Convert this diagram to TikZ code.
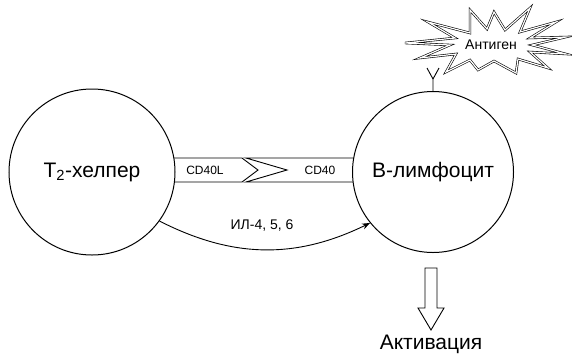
\documentclass[tikz,border=0pt]{standalone}
\usepackage{fontspec}
\setmainfont{Liberation Sans}
\usetikzlibrary{arrows.meta}
\begin{document}
\begin{tikzpicture}[x=1pt,y=-1pt,
  cell/.style={circle,draw,line width=1pt,fill=white,minimum size=#1,inner sep=0pt,font=\fontsize{21}{24}\selectfont},
  band/.style={draw,line width=0.9pt,fill=white},
  small/.style={font=\fontsize{12}{14}\selectfont,inner sep=0pt},
  burst/.style={draw,double,double distance=1.2pt,line width=0.6pt,line join=miter,fill=white}]
\useasboundingbox (0,0) rectangle (572,357);
% bands
\draw[band] (150,158) -- (242,158) -- (258,170) -- (242,182) -- (150,182) -- cycle;
\draw[band] (246,158) -- (380,158) -- (380,182) -- (246,182) -- (287,170) -- cycle;
% cells
\node[cell=166pt] (T) at (92,172) {T\textsubscript{2}-хелпер};
\node[cell=161pt] (B) at (433,172) {В-лимфоцит};
\node[small] (l1) at (205,170) {CD40L};
\node[small] (l2) at (320,170) {CD40};
% cytokines
\draw[line width=0.9pt,-{Stealth[length=8pt,width=6pt]}] (T.-36) to[out=-27,in=206] (B.-141);
\node[small,font=\fontsize{14}{16}\selectfont] (il) at (262,225) {ИЛ-4, 5, 6};
% antigen
\draw[burst] (405,43) -- (450,45) -- (420,58) -- (456,54) -- (446,72) -- (470,60) -- (478,70)
  -- (494,61) -- (516,73) -- (518,59) -- (548,68) -- (530,52) -- (566,54) -- (532,45)
  -- (566,37) -- (530,38) -- (556,22) -- (520,32) -- (530,8) -- (505,30) -- (494,12)
  -- (487,29) -- (470,10) -- (470,33) -- (428,22) -- (455,38) -- cycle;
\node[font=\fontsize{14}{16}\selectfont,inner sep=0pt] (ag) at (491,45) {Антиген};
\coordinate (y0) at (B.north);
\coordinate (yc) at (433,79);
\draw[line width=0.9pt] (y0) -- (yc) -- ++(-6,-11) (yc) -- ++(6,-11);
% activation arrow
\node[font=\fontsize{21}{24}\selectfont,inner sep=0pt] (act) at (431,344) {Активация};
\draw[line width=0.9pt,fill=white] (425,268) -- (437,268) -- (437,308) -- (444,308) -- (431,330) -- (418,308) -- (425,308) -- cycle;
\end{tikzpicture}
\end{document}
